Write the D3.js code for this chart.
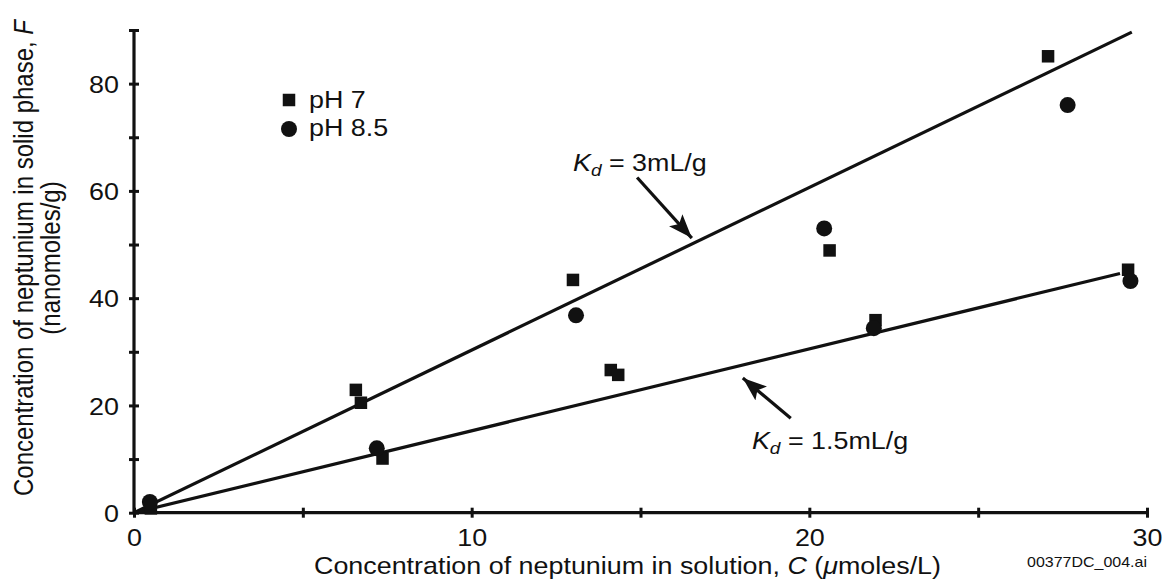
<!DOCTYPE html>
<html>
<head>
<meta charset="utf-8">
<script src="https://cdn.jsdelivr.net/npm/d3@7"></script>
<style>
  html, body { margin: 0; padding: 0; background: #fff; }
  svg { display: block; }
  text { font-family: "Liberation Sans", Arial, Helvetica, sans-serif; fill: #111; }
</style>
</head>
<body>
<svg id="chart" width="1162" height="586"></svg>
<script>
// ---- Data ----
const ph7C  = [0.5, 6.57, 6.72, 7.36, 13.0, 14.12, 14.34, 20.6, 21.96, 27.07, 29.44];
const ph7F  = [0.8, 22.9, 20.5, 10.1, 43.4, 26.6, 25.7, 48.9, 35.9, 85.1, 45.3];
const ph85C = [0.47, 7.19, 13.09, 20.44, 21.91, 27.65, 29.51];
const ph85F = [2.0, 12.0, 36.8, 53.0, 34.4, 76.0, 43.2];
const kdLabels = ["3mL/g", "1.5mL/g"];
const kdLineEndC = [29.55, 29.2];
const kdLineEndF = [89.6, 44.6];
const xTicks = [0, 5, 10, 15, 20, 25, 30];
const xTickLabels = ["0", "", "10", "", "20", "", "30"];
const yTicks = [0, 10, 20, 30, 40, 50, 60, 70, 80, 90];
const yTickLabels = ["0", "", "20", "", "40", "", "60", "", "80", ""];
const legendLabels = ["pH 7", "pH 8.5"];

// ---- Layout ----
const svg = d3.select("#chart");
const SX = 1.12; // horizontal stretch of the glyphs in the reference
const FS = 24;
const x = d3.scaleLinear().domain([0, 30]).range([134, 1147]);
const y = d3.scaleLinear().domain([0, 90]).range([512.7, 30]);

// Axes
const xAxis = d3.axisBottom(x).tickValues(xTicks).tickSize(5)
  .tickFormat((d, i) => xTickLabels[i]);
const gx = svg.append("g").attr("transform", `translate(0,${y(0)})`).call(xAxis);
gx.select(".domain").attr("d", `M${x(0)},0H${x(30)}`).attr("stroke", "#111").attr("stroke-width", 3.2);
gx.selectAll(".tick line").attr("y1", -5).attr("y2", 5).attr("stroke", "#111").attr("stroke-width", 3);
gx.selectAll(".tick text").attr("y", 0).attr("dy", 0)
  .attr("transform", `translate(0,33) scale(${SX},1)`)
  .attr("font-size", FS).attr("font-family", "Liberation Sans, Arial, sans-serif").attr("fill", "#111");

const yAxis = d3.axisLeft(y).tickValues(yTicks).tickSize(5)
  .tickFormat((d, i) => yTickLabels[i]);
const gy = svg.append("g").attr("transform", `translate(${x(0)},0)`).call(yAxis);
gy.select(".domain").attr("d", `M0,${y(0)}V${y(90)}`).attr("stroke", "#111").attr("stroke-width", 3.2);
gy.selectAll(".tick line").attr("x1", -5).attr("x2", 5).attr("stroke", "#111").attr("stroke-width", 3);
gy.selectAll(".tick text").attr("x", -15 / SX).attr("dy", "0.36em")
  .attr("transform", `scale(${SX},1)`)
  .attr("font-size", FS).attr("font-family", "Liberation Sans, Arial, sans-serif").attr("fill", "#111");

// Kd lines
const line = d3.line().x(d => x(d[0])).y(d => y(d[1]));
kdLineEndC.forEach((c, i) => {
  svg.append("path").datum([[0, 0], [c, kdLineEndF[i]]])
    .attr("d", line).attr("fill", "none").attr("stroke", "#111").attr("stroke-width", 3.2);
});

// Data markers
const SQ = 12.5;
svg.append("g").selectAll("rect").data(ph7C.map((c, i) => [c, ph7F[i]])).join("rect")
  .attr("x", d => x(d[0]) - SQ / 2).attr("y", d => y(d[1]) - SQ / 2)
  .attr("width", SQ).attr("height", SQ).attr("fill", "#111");
svg.append("g").selectAll("circle").data(ph85C.map((c, i) => [c, ph85F[i]])).join("circle")
  .attr("cx", d => x(d[0])).attr("cy", d => y(d[1])).attr("r", 8).attr("fill", "#111");

// Legend
const lg = svg.append("g");
lg.append("rect").attr("x", 289 - SQ / 2).attr("y", 100 - SQ / 2).attr("width", SQ).attr("height", SQ).attr("fill", "#111");
lg.append("circle").attr("cx", 289).attr("cy", 129).attr("r", 8).attr("fill", "#111");
legendLabels.forEach((t, i) => {
  lg.append("text").attr("transform", `translate(309,${[108, 136][i]}) scale(${SX},1)`)
    .attr("font-size", FS).text(t);
});

// Arrow markers
const defs = svg.append("defs");
defs.append("marker").attr("id", "ah").attr("markerUnits", "userSpaceOnUse")
  .attr("viewBox", "0 0 24 18").attr("refX", 24).attr("refY", 9)
  .attr("markerWidth", 24).attr("markerHeight", 18).attr("orient", "auto")
  .append("path").attr("d", "M0,0L24,9L0,18L5,9Z").attr("fill", "#111");

const arrows = [
  [[14.9, 62.5], [16.52, 51.2]],
  [[19.45, 17.6], [18.03, 25.1]]
];
arrows.forEach(a => {
  svg.append("line").attr("x1", x(a[0][0])).attr("y1", y(a[0][1]))
    .attr("x2", x(a[1][0])).attr("y2", y(a[1][1]))
    .attr("stroke", "#111").attr("stroke-width", 3.2).attr("marker-end", "url(#ah)");
});

// Kd labels
const kdPos = [[13.0, 63.7], [18.3, 11.9]];
kdLabels.forEach((lab, i) => {
  const t = svg.append("text")
    .attr("transform", `translate(${x(kdPos[i][0])},${y(kdPos[i][1])}) scale(${SX},1)`)
    .attr("font-size", FS);
  t.append("tspan").attr("font-style", "italic").text("K");
  t.append("tspan").attr("font-style", "italic").attr("font-size", 17).attr("dy", 5).text("d");
  t.append("tspan").attr("dy", -5).text(" = " + lab);
});

// Axis titles
const xt = svg.append("text")
  .attr("transform", `translate(${(x(0) + x(30)) / 2 - 13},574) scale(${SX},1)`)
  .attr("text-anchor", "middle").attr("font-size", FS);
xt.append("tspan").text("Concentration of neptunium in solution, ");
xt.append("tspan").attr("font-style", "italic").text("C");
xt.append("tspan").text(" (");
xt.append("tspan").attr("font-style", "italic").text("μ");
xt.append("tspan").text("moles/L)");

const yt1 = svg.append("text")
  .attr("transform", `translate(33,258) scale(${SX},1) rotate(-90)`)
  .attr("text-anchor", "middle").attr("font-size", FS);
yt1.append("tspan").text("Concentration of neptunium in solid phase, ");
yt1.append("tspan").attr("font-style", "italic").text("F");
svg.append("text")
  .attr("transform", `translate(60,258) scale(${SX},1) rotate(-90)`)
  .attr("text-anchor", "middle").attr("font-size", FS).text("(nanomoles/g)");

// File tag
svg.append("text").attr("x", 1147).attr("y", 567).attr("text-anchor", "end")
  .attr("font-size", 15).attr("textLength", 120).attr("lengthAdjust", "spacingAndGlyphs")
  .text("00377DC_004.ai");
</script>
</body>
</html>
